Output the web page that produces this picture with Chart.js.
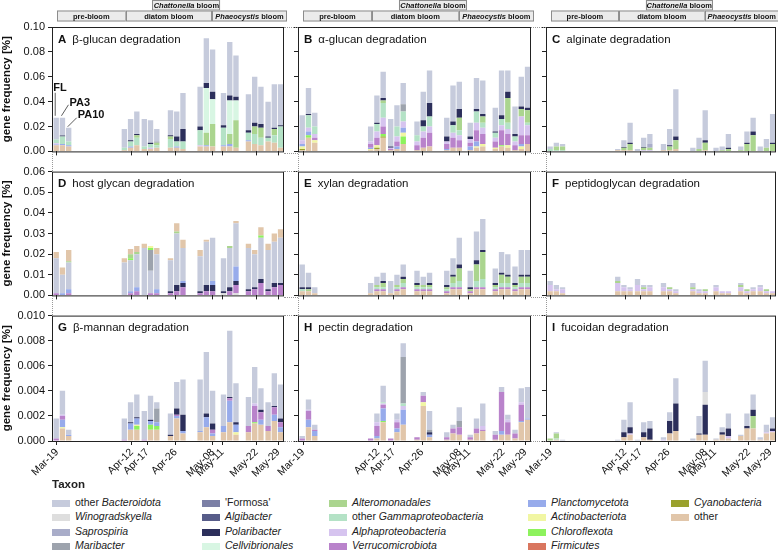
<!DOCTYPE html>
<html>
<head>
<meta charset="utf-8">
<script src="https://cdn.jsdelivr.net/npm/chart.js@4.4.1/dist/chart.umd.min.js"></script>
<style>
  body { margin: 0; background: #fff; width: 778px; height: 550px; position: relative; overflow: hidden;
         font-family: "Liberation Sans", Arial, sans-serif; color: #222; }
  canvas { position: absolute; }
  .dot { position: absolute; border-color: #999; border-style: dotted; border-width: 0; }
  .lg { position: absolute; font-size: 10.5px; line-height: 14px; white-space: nowrap; }
  .lg span.sw { display: inline-block; width: 18px; height: 7px; vertical-align: -0.5px; margin-right: 5px; }
</style>
</head>
<body>
<script>
// ---------------------------------------------------------------
// Sampling design: 8 dates, 3 size fractions each (FL, PA3, PA10)
// ---------------------------------------------------------------
const sampleDays = [1.75, 23.6, 30.0, 38.4, 47.9, 55.4, 63.4, 69.7];   // days after Mar-19 (group centre)
const fractions = ['FL', 'PA3', 'PA10'];
const tickDays = [0, 24, 29, 38, 50, 53, 64, 71];
const tickLabels = ['Mar-19', 'Apr-12', 'Apr-17', 'Apr-26', 'May-08', 'May-11', 'May-22', 'May-29'];

const phaseNames = ['pre-bloom', 'diatom bloom', 'Phaeocystis bloom'];
const phaseStart = [0, 22, 49.7];
const phaseEnd = [22, 49.7, 72.8];
const chattStart = 30.6, chattEnd = 52.4;

// Taxa (legend order)
const taxonKeys = ['bact', 'winog', 'sapro', 'mari', 'formosa', 'algi', 'polar', 'cellv', 'alter',
  'gamma', 'alpha', 'verruco', 'planct', 'actino', 'chloro', 'firmi', 'cyano', 'other'];
const taxonNames = ['other <i>Bacteroidota</i>', '<i>Winogradskyella</i>', '<i>Saprospiria</i>', '<i>Maribacter</i>',
  "'Formosa'", '<i>Algibacter</i>', '<i>Polaribacter</i>', '<i>Cellvibrionales</i>', '<i>Alteromonadales</i>',
  'other <i>Gammaproteobacteria</i>', '<i>Alphaproteobacteria</i>', '<i>Verrucomicrobiota</i>', '<i>Planctomycetota</i>',
  '<i>Actinobacteriota</i>', '<i>Chloroflexota</i>', '<i>Firmicutes</i>', '<i>Cyanobacteria</i>', 'other'];
const taxonColors = ['#c6cbdc', '#dedede', '#a9adc9', '#9da3ad', '#7c80a6', '#575c89', '#2c2f5b', '#d8f6e3', '#abd58f',
  '#b4e2c6', '#d6c4ef', '#b983cb', '#97abeb', '#f1f6a3', '#8df25d', '#d9765f', '#9aa12d', '#e1c6aa'];

// ---------------- A: beta-glucan ----------------
const A_other = [.005,.005,.004, .001,.003,.005, .002,.002,.003, .003,.003,.002, .004,.004,.004, .004,.004,.003, .008,.006,.005, .008,.007,.003];
const A_planct = [.0005,.001,.001, 0,.001,0, 0,0,0, 0,.001,0, 0,.001,0, .001,.002,0, .001,0,0, 0,0,0];
const A_alpha = [.001,0,0, 0,0,0, 0,.001,0, 0,0,0, .001,0,0, 0,0,0, 0,0,0, 0,0,0];
const A_gamma = [.003,.006,.003, .002,.004,.006, .002,.003,.002, .007,.004,.006, .012,0,0, .014,0,0, .006,.008,.006, .003,.006,.017];
const A_alter = [0,0,0, 0,0,.002, 0,0,.002, .002,0,0, 0,.010,.018, 0,.008,.022, 0,.006,.008, 0,.005,0];
const A_cellv = [0,0,0, 0,0,0, 0,0,0, 0,0,0, 0,.036,.020, 0,.027,.016, 0,0,0, 0,0,0];
const A_polar = [0,.0007,0, 0,.001,.001, 0,.001,0, .001,.004,.010, .003,.004,.006, .002,.004,.003, .002,.003,.003, .001,.001,.001];
const A_mari = [0,0,0, 0,0,0, 0,0,.001, 0,0,0, 0,0,0, 0,0,0, 0,0,0, 0,0,0];
const A_bact = [.0175,.0143,.011, .015,.017,.018, .022,.018,.010, .020,.020,.029, .032,.036,.034, .026,.043,.033, .029,.037,.030, .028,.035,.033];

// ---------------- B: alpha-glucan ----------------
const B_other = [.001,.011,.007, .001,.002,.011, .001,.002,.006, .001,.003,.004, .001,.003,.003, .001,.003,.004, .002,.004,.003, .001,.002,.006];
const B_cyano = [.001,0,0, 0,.001,.001, 0,0,0, 0,0,0, 0,0,0, 0,0,0, 0,0,0, 0,0,0];
const B_chloro = [0,.002,0, 0,0,.002, 0,0,.006, 0,0,0, 0,0,0, 0,0,0, 0,.001,0, 0,0,0];
const B_actino = [.002,0,.002, .001,.002,0, 0,0,.003, 0,0,0, 0,0,0, 0,.001,.002, .001,0,.002, 0,.002,0];
const B_planct = [.002,.003,0, .001,0,0, 0,.002,.004, 0,0,0, .001,0,0, .003,.004,0, 0,0,0, 0,.002,0];
const B_verruco = [0,0,.002, .003,.006,.006, .001,.004,0, .004,.008,.011, .004,.008,.006, .003,.009,.008, .005,.012,.009, .004,.007,.007];
const B_alpha = [.003,.003,.003, .002,.005,.007, .001,.004,.005, .003,.005,.005, .002,.004,.004, .003,.006,.005, .003,.004,.004, .003,.015,.008];
const B_gamma = [0,.010,.006, 0,.006,.012, 0,.008,.008, .005,.004,.008, 0,.006,.004, 0,.009,.004, .004,.005,.005, .004,0,.002];
const B_alter = [0,0,0, 0,0,.002, 0,0,0, 0,0,0, 0,0,.010, 0,0,.005, 0,0,.020, 0,.006,.010];
const B_polar = [0,.001,0, 0,.001,.002, .001,0,0, 0,.005,.011, .004,.003,.007, .002,.002,.002, .001,.003,.005, .002,.002,.002];
const B_mari = [0,0,0, 0,0,0, 0,0,.006, 0,0,0, 0,0,0, 0,0,0, 0,0,0, 0,0,0];
const B_bact = [.020,.021,.011, .012,.022,.021, .022,.017,.017, .011,.023,.026, .015,.029,.022, .011,.025,.027, .019,.036,.017, .022,.024,.033];

// ---------------- C: alginate ----------------
const C_other = [0,0,0, .001,.001,.001, 0,0,0, .001,.001,.002, 0,0,.001, 0,0,0, 0,0,0, 0,0,0];
const C_alpha = [0,0,0, 0,0,0, 0,.001,.001, 0,0,0, 0,0,0, 0,0,0, 0,0,0, 0,0,0];
const C_gamma = [.002,.001,.001, 0,0,0, 0,0,0, 0,0,0, 0,0,0, 0,0,0, 0,0,0, 0,0,0];
const C_alter = [0,.003,.003, 0,.002,.005, 0,.002,.002, 0,.003,.007, 0,.002,.006, 0,.001,.002, .001,.006,.013, 0,.003,.006];
const C_polar = [0,0,0, 0,.0005,.001, 0,.0005,0, 0,.001,.003, 0,0,.002, 0,0,.001, 0,.001,.003, 0,0,.001];
const C_sapro = [0,0,0, 0,0,0, 0,0,.003, 0,0,0, 0,0,0, 0,0,0, 0,0,0, 0,0,0];
const C_bact = [.002,.003,.002, .001,.0055,.016, .002,.0075,.008, .005,.013,.038, .003,.009,.024, .003,.003,.011, .003,.009,.011, .004,.007,.023];

// ---------------- D: host glycan ----------------
const D_winog = [0,0,0, 0,0,0, 0,0,0, 0,0,0, 0,0,0, .001,0,.001, 0,0,0, 0,0,0];
const D_verruco = [.001,0,.001, 0,.001,.002, 0,.001,.001, .001,.002,.004, .001,.002,.002, 0,.002,.004, .002,.003,.006, .002,.004,.005];
const D_polar = [0,0,0, 0,0,0, 0,0,0, .001,.003,.002, .001,.003,.003, .001,.002,.002, .001,.001,.002, .001,.002,.001];
const D_planct = [0,.001,.002, 0,.001,.002, 0,0,.002, 0,0,.001, 0,0,.002, 0,0,.007, 0,0,0, 0,0,0];
const D_bact = [.017,.009,.013, .016,.015,.016, .023,.011,.017, .015,.025,.016, .017,.021,.021, .016,.019,.021, .020,.016,.020, .019,.020,.022];
const D_mari = [0,0,0, 0,0,0, 0,.010,0, 0,0,0, 0,0,0, 0,0,0, 0,0,0, 0,0,0];
const D_chloro = [0,0,0, 0,.001,0, 0,.001,0, 0,0,0, 0,0,0, 0,0,0, 0,0,.001, 0,0,0];
const D_actino = [0,0,0, 0,0,0, 0,.001,0, 0,0,0, 0,0,0, 0,0,0, 0,0,0, 0,0,0];
const D_alter = [0,0,.0005, 0,.002,.001, 0,0,0, 0,.001,0, 0,0,0, 0,.001,0, 0,0,0, 0,0,0];
const D_other = [.003,.0035,.0055, .002,.0025,.003, .002,0,.003, .001,.004,.004, .003,.001,0, 0,0,.001, .002,.002,.004, .003,.004,.004];

// ---------------- E: xylan ----------------
const E_other = [.002,.002,.001, .001,.002,.002, .001,.002,.003, .002,.002,.002, .001,.003,.003, .001,.003,.003, .002,.003,.003, .002,.003,.003];
const E_verruco = [0,0,0, 0,.001,.001, 0,.001,.001, .001,.001,.001, .001,.001,.001, .001,.001,.001, .001,.001,.001, .001,.001,.001];
const E_gamma = [.001,0,0, 0,.001,.001, 0,.001,.002, .001,.001,.001, .001,.002,.003, 0,.003,.004, .001,.002,.002, .001,.002,.002];
const E_alter = [0,.001,0, 0,.001,.002, 0,.001,.002, .001,.001,.001, .001,.003,.006, .001,.008,.013, .001,.004,.003, .001,.003,.003];
const E_polar = [.001,.001,0, 0,0,.001, 0,0,.001, .001,0,.001, .001,.001,.002, .001,.002,.001, .001,.001,.001, .001,.001,.001];
const E_bact = [.011,.007,.003, .005,.004,.004, .006,.005,.006, .006,.004,.005, .007,.008,.013, .008,.014,.015, .007,.010,.010, .008,.012,.012];

// ---------------- F: peptidoglycan ----------------
const F_other = [.002,.002,.001, .002,.002,.002, .002,.002,.002, .002,.002,.001, .002,.001,.001, .002,.001,.001, .002,.001,.002, .002,.001,.001];
const F_alter = [0,0,0, .001,0,0, 0,.001,0, 0,.001,0, .001,0,.001, 0,0,0, .001,.001,0, 0,.001,0];
const F_alpha = [.003,.001,.002, .004,.002,.001, .003,.001,.002, .002,.001,.001, .001,.001,.001, .002,.001,.001, .002,.001,.001, .002,.001,.001];
const F_bact = [.002,.002,.001, .002,.001,.001, .003,.001,.001, .002,0,.001, .002,.001,0, .001,0,0, .001,0,.001, .001,0,0];

// ---------------- G: beta-mannan ----------------
const G_other = [0,.001,.0004, 0,.0009,.0009, 0,.0009,.0009, .0004,.0018,.0006, .0007,.0011,.0004, .0007,.0015,.0005, .0007,.0014,.0013, .0008,.0016,.0007];
const G_chloro = [0,0,0, 0,0,.0003, 0,.0004,.0003, 0,0,0, 0,0,0, 0,0,0, 0,.0001,0, 0,0,0];
const G_actino = [0,.0001,0, 0,0,.0001, 0,0,0, 0,0,0, 0,0,0, 0,0,.0002, 0,0,0, 0,0,0];
const G_planct = [0,.0006,.0001, 0,.0005,.0005, 0,.0003,.0003, 0,.0002,.0002, .0001,.0008,.0002, .0005,.0017,.0006, 0,0,.0004, 0,.0005,.0004];
const G_verruco = [.0002,.0003,0, .0001,0,0, .0001,0,0, 0,.0001,0, 0,0,.0003, 0,.0002,0, .0005,.0013,.0006, .0004,.0006,.0004];
const G_alpha = [0,.0001,0, 0,0,0, 0,0,0, 0,0,0, 0,0,0, 0,0,0, 0,.0002,0, 0,0,0];
const G_polar = [0,0,0, 0,.0001,.0001, 0,.0001,0, .0001,.0005,.0013, 0,.0003,.0005, 0,.0001,.0002, 0,0,.0002, 0,.0001,.0003];
const G_mari = [0,0,0, 0,0,0, 0,0,.0011, 0,0,0, 0,0,0, 0,0,0, 0,0,0, 0,0,0];
const G_bact = [.0016,.0019,.0004, .0017,.0016,.0018, .0023,.0019,.0005, .0017,.0021,.0028, .0041,.0049,.0026, .0025,.0053,.0031, .0023,.0029,.0017, .0019,.0026,.0027];

// ---------------- H: pectin ----------------
const H_other = [0,.0011,.0004, 0,.0002,.0015, 0,.0007,.0013, .0001,.0028,.0003, .0001,.0006,.0005, .0001,.0006,.0008, .0001,.0005,.0005, .0002,.0015,.0017];
const H_actino = [0,0,0, 0,0,0, 0,0,0, 0,.0003,0, 0,0,0, 0,0,0, 0,0,0, 0,0,0];
const H_chloro = [0,0,0, 0,0,.0001, 0,0,0, 0,0,0, 0,0,0, 0,0,0, 0,0,0, 0,0,0];
const H_planct = [0,.0006,.0004, 0,.0002,.0010, 0,.0003,.0012, 0,0,.0002, 0,0,0, 0,0,0, 0,.0003,0, 0,.0001,.0001];
const H_verruco = [.0002,.0007,.0001, .0002,.0008,.0003, .0002,.0005,0, .0002,.0005,0, .0002,.0004,.0006, .0002,.0004,.0001, .0004,.0031,.0010, .0004,.0013,0];
const H_alpha = [0,.0001,0, 0,.0003,.0001, 0,.0002,.0003, 0,0,0, 0,0,0, 0,0,.0003, 0,0,.0002, 0,.0002,0];
const H_gamma = [0,0,0, 0,0,.0001, 0,0,.0002, 0,0,0, 0,0,0, 0,0,0, 0,0,0, 0,0,0];
const H_polar = [0,0,0, 0,0,0, 0,0,0, 0,0,.0002, 0,0,0, 0,0,0, 0,0,0, 0,0,0];
const H_mari = [0,0,0, 0,0,0, 0,0,.0037, 0,0,.0002, 0,0,.0005, 0,0,0, 0,0,0, 0,0,0];
const H_bact = [.0002,.0008,.0004, 0,.0007,.0013, 0,.0005,.0011, 0,.0003,.0015, .0004,.0003,.0011, .0002,.0008,.0018, .0003,.0004,.0004, .0003,.0011,.0025];

// ---------------- I: fucoidan ----------------
const I_other = [0,.0001,0, 0,.0003,.0005, 0,.0003,.0001, 0,.0006,.0008, 0,.0005,.0005, .0001,.0005,.0002, .0004,.0010,.0010, .0001,.0006,.0007];
const I_alpha = [0,0,0, 0,0,.0001, 0,0,0, .0001,0,0, 0,0,0, 0,0,.0002, 0,0,0, 0,.0001,.0001];
const I_gamma = [0,.0001,0, 0,0,0, 0,0,0, 0,0,0, 0,0,0, 0,0,0, 0,0,0, 0,0,0];
const I_alter = [.0002,.0004,0, 0,0,0, 0,0,0, 0,0,0, 0,0,0, 0,0,0, 0,0,.0010, 0,0,0];
const I_polar = [0,0,0, 0,.0004,.0005, 0,.0004,.0009, 0,.0010,.0022, 0,.0001,.0024, 0,.0002,.0006, 0,.0002,.0005, 0,0,.0002];
const I_winog = [0,0,0, 0,0,0, 0,0,0, 0,0,0, 0,0,.0010, 0,0,0, 0,0,0, 0,0,0];
const I_bact = [0,.0001,.0001, .0001,.0010,.0020, .0001,.0008,.0006, .0002,.0007,.0020, .0002,.0014,.0025, .0001,.0004,.0012, .0001,.0010,.0012, .0002,.0006,.0009];

// y axis per row
const rowMax = [0.10, 0.06, 0.010];
const rowStep = [0.02, 0.01, 0.002];
const rowDecimals = [2, 2, 3];

// stacking order, bottom to top
const stackOrder = ['other', 'cyano', 'firmi', 'chloro', 'actino', 'planct', 'verruco', 'alpha', 'gamma', 'alter',
  'cellv', 'polar', 'algi', 'formosa', 'mari', 'sapro', 'winog', 'bact'];
const stackOrderHost = ['winog', 'verruco', 'alpha', 'polar', 'planct', 'bact', 'mari', 'sapro', 'formosa', 'algi',
  'cellv', 'gamma', 'chloro', 'actino', 'alter', 'firmi', 'cyano', 'other'];

const panels = [
  { letter: 'A', title: 'β-glucan degradation', row: 0, col: 0,
    parts: { other: A_other, planct: A_planct, alpha: A_alpha, gamma: A_gamma, alter: A_alter, cellv: A_cellv, polar: A_polar, mari: A_mari, bact: A_bact } },
  { letter: 'B', title: 'α-glucan degradation', row: 0, col: 1,
    parts: { other: B_other, cyano: B_cyano, chloro: B_chloro, actino: B_actino, planct: B_planct, verruco: B_verruco, alpha: B_alpha, gamma: B_gamma, alter: B_alter, polar: B_polar, mari: B_mari, bact: B_bact } },
  { letter: 'C', title: 'alginate degradation', row: 0, col: 2,
    parts: { other: C_other, alpha: C_alpha, gamma: C_gamma, alter: C_alter, polar: C_polar, sapro: C_sapro, bact: C_bact } },
  { letter: 'D', title: 'host glycan degradation', row: 1, col: 0, order: stackOrderHost,
    parts: { winog: D_winog, verruco: D_verruco, polar: D_polar, planct: D_planct, bact: D_bact, mari: D_mari, chloro: D_chloro, actino: D_actino, alter: D_alter, other: D_other } },
  { letter: 'E', title: 'xylan degradation', row: 1, col: 1,
    parts: { other: E_other, verruco: E_verruco, gamma: E_gamma, alter: E_alter, polar: E_polar, bact: E_bact } },
  { letter: 'F', title: 'peptidoglycan degradation', row: 1, col: 2,
    parts: { other: F_other, alter: F_alter, alpha: F_alpha, bact: F_bact } },
  { letter: 'G', title: 'β-mannan degradation', row: 2, col: 0,
    parts: { other: G_other, chloro: G_chloro, actino: G_actino, planct: G_planct, verruco: G_verruco, alpha: G_alpha, polar: G_polar, mari: G_mari, bact: G_bact } },
  { letter: 'H', title: 'pectin degradation', row: 2, col: 1,
    parts: { other: H_other, actino: H_actino, chloro: H_chloro, planct: H_planct, verruco: H_verruco, alpha: H_alpha, gamma: H_gamma, polar: H_polar, mari: H_mari, bact: H_bact } },
  { letter: 'I', title: 'fucoidan degradation', row: 2, col: 2,
    parts: { other: I_other, alpha: I_alpha, gamma: I_gamma, alter: I_alter, polar: I_polar, winog: I_winog, bact: I_bact } }
];

// ---------------- layout (page pixels) ----------------
const colLeft = [52, 298, 546];
const colWidth = [232, 233, 230];
const rowTop = [27, 171, 315];
const plotH = 126;
const axisW = 52;
const padR = 6;
const fractionShift = [-2, 0, 2];   // FL / PA3 / PA10 bar offset inside a group, in days
const X_MIN = -1.6, X_MAX = 72.8;
const FONT = '"Liberation Sans", Arial, sans-serif';

Chart.defaults.font.family = FONT;
Chart.defaults.color = '#222';

function sampleX(i) {
  return sampleDays[Math.floor(i / 3)] + fractionShift[i % 3];
}

function buildDatasets(p) {
  const order = p.order || stackOrder;
  return order.filter(k => p.parts[k]).map(k => {
    const t = taxonKeys.indexOf(k);
    return {
      label: taxonNames[t].replace(/<[^>]+>/g, ''),
      data: p.parts[k].map((v, i) => ({ x: sampleX(i), y: v })),
      backgroundColor: taxonColors[t],
      borderWidth: 0,
      barPercentage: 0.86,
      categoryPercentage: 1
    };
  });
}

// frame around every plot area
const framePlugin = {
  id: 'frame',
  afterDatasetsDraw(chart) {
    const { ctx, chartArea: a } = chart;
    ctx.save();
    ctx.strokeStyle = '#222';
    ctx.lineWidth = 1;
    ctx.strokeRect(a.left + 0.5, a.top + 0.5, a.right - a.left - 1, a.bottom - a.top);
    ctx.restore();
  }
};

// panel letter + title
const titlePlugin = {
  id: 'panelTitle',
  afterDraw(chart) {
    const p = chart.config.options.plugins.panelTitle;
    const { ctx, chartArea: a } = chart;
    ctx.save();
    ctx.fillStyle = '#111';
    ctx.textBaseline = 'alphabetic';
    ctx.font = 'bold 11.5px ' + FONT;
    const x0 = a.left + 6;
    ctx.fillText(p.letter, x0, a.top + 15.5);
    const w = ctx.measureText(p.letter).width;
    ctx.font = '11.5px ' + FONT;
    ctx.fillText(p.title, x0 + w + 6, a.top + 15.5);
    ctx.restore();
  }
};

// bloom phase header above the top row
function drawBox(ctx, x0, x1, y0, y1, pieces) {
  ctx.fillStyle = '#ebebeb';
  ctx.fillRect(x0, y0, x1 - x0, y1 - y0);
  ctx.strokeStyle = '#8c8c8c';
  ctx.lineWidth = 1;
  ctx.strokeRect(Math.round(x0) + 0.5, y0 + 0.5, Math.round(x1 - x0) - 1, y1 - y0 - 1);
  let total = 0;
  pieces.forEach(pc => { ctx.font = pc[1] + ' 7.5px ' + FONT; total += ctx.measureText(pc[0]).width; });
  let x = (x0 + x1) / 2 - total / 2;
  ctx.fillStyle = '#111';
  ctx.textBaseline = 'middle';
  pieces.forEach(pc => {
    ctx.font = pc[1] + ' 7.5px ' + FONT;
    ctx.fillText(pc[0], x, (y0 + y1) / 2 + 0.5);
    x += ctx.measureText(pc[0]).width;
  });
}

function phasePieces(name) {
  const m = name.match(/^(Phaeocystis|Chattonella)( bloom)$/);
  return m ? [[m[1], 'italic bold'], [m[2], 'bold']] : [[name, 'bold']];
}

const headerPlugin = {
  id: 'header',
  afterDraw(chart) {
    const { ctx, scales: { x } } = chart;
    ctx.save();
    drawBox(ctx, x.getPixelForValue(chattStart), x.getPixelForValue(chattEnd), 0, 10.5, phasePieces('Chattonella bloom'));
    phaseNames.forEach((n, i) => {
      drawBox(ctx, x.getPixelForValue(phaseStart[i]), x.getPixelForValue(Math.min(phaseEnd[i], X_MAX)) + (i === 2 ? 3 : 0),
        10.5, 21.5, phasePieces(n));
    });
    ctx.restore();
  }
};

// FL / PA3 / PA10 callouts in panel A
const calloutPlugin = {
  id: 'callout',
  afterDraw(chart) {
    const { ctx, scales: { x, y } } = chart;
    const p = panels[0];
    const tops = [0, 1, 2].map(i => Object.values(p.parts).reduce((s, arr) => s + arr[i], 0));
    const bx = [0, 1, 2].map(i => x.getPixelForValue(sampleX(i)));
    const by = tops.map(t => y.getPixelForValue(t));
    ctx.save();
    ctx.fillStyle = '#111';
    ctx.strokeStyle = '#333';
    ctx.lineWidth = 0.8;
    ctx.font = 'bold 11px ' + FONT;
    ctx.textBaseline = 'alphabetic';
    ctx.fillText('FL', bx[0] - 3, by[0] - 27);
    ctx.fillText('PA3', bx[1] + 7, by[1] - 12);
    ctx.fillText('PA10', bx[2] + 9, by[2] - 10);
    ctx.beginPath();
    ctx.moveTo(bx[0] - 1, by[0] - 25); ctx.lineTo(bx[0] - 1, by[0] - 2);
    ctx.moveTo(bx[1] + 6, by[1] - 13); ctx.lineTo(bx[1] - 1, by[1] - 2);
    ctx.moveTo(bx[2] + 8, by[2] - 10); ctx.lineTo(bx[2] - 1, by[2] - 1);
    ctx.stroke();
    ctx.restore();
  }
};

function makePanel(p) {
  const r = p.row, c = p.col;
  const padTop = r === 0 ? 27 : 9;
  const xH = r === 2 ? 44 : 8;
  const cv = document.createElement('canvas');
  const W = axisW + colWidth[c] + padR;
  const H = padTop + plotH + xH;
  cv.width = W; cv.height = H;
  cv.style.left = (colLeft[c] - axisW) + 'px';
  cv.style.top = (rowTop[r] - padTop) + 'px';
  cv.style.width = W + 'px'; cv.style.height = H + 'px';
  document.body.appendChild(cv);

  const plugins = [framePlugin, titlePlugin];
  if (r === 0) plugins.push(headerPlugin);
  if (p.letter === 'A') plugins.push(calloutPlugin);

  new Chart(cv, {
    type: 'bar',
    data: { datasets: buildDatasets(p) },
    plugins: plugins,
    options: {
      responsive: false,
      animation: false,
      devicePixelRatio: 1,
      layout: { padding: { top: padTop, right: padR, left: 0, bottom: 0 } },
      plugins: {
        legend: { display: false },
        tooltip: { enabled: false },
        panelTitle: { letter: p.letter, title: p.title }
      },
      scales: {
        x: {
          type: 'linear',
          stacked: true,
          offset: false,
          min: X_MIN, max: X_MAX,
          afterBuildTicks: s => { s.ticks = tickDays.map(v => ({ value: v })); },
          afterFit: s => { s.height = xH; },
          border: { display: false },
          grid: { offset: false, drawOnChartArea: false, drawTicks: true, tickLength: 4, color: '#222' },
          ticks: {
            autoSkip: false,
            maxRotation: r === 2 ? 45 : 0,
            minRotation: r === 2 ? 45 : 0,
            padding: 1,
            font: { size: 10.5 },
            color: '#111',
            callback: v => r === 2 ? tickLabels[tickDays.indexOf(v)] : ''
          }
        },
        y: {
          stacked: true,
          min: 0, max: rowMax[r],
          afterFit: s => { s.width = axisW; },
          border: { display: false },
          grid: { drawOnChartArea: false, drawTicks: true, tickLength: 4, color: '#222' },
          ticks: {
            stepSize: rowStep[r],
            padding: 3,
            font: { size: 11 },
            color: '#111',
            callback: v => c === 0 ? Number(v).toFixed(rowDecimals[r]) : ''
          },
          title: {
            display: c === 0,
            text: 'gene frequency [%]',
            font: { size: 11.5, weight: 'bold' },
            color: '#111',
            padding: { top: 0, bottom: 0 }
          }
        }
      }
    }
  });
}

panels.forEach(makePanel);

// dotted axis-break connectors between panels
function dot(left, top, w, h, vertical) {
  const d = document.createElement('div');
  d.className = 'dot';
  d.style.left = left + 'px'; d.style.top = top + 'px';
  if (vertical) { d.style.height = h + 'px'; d.style.borderLeftWidth = '1px'; }
  else { d.style.width = w + 'px'; d.style.borderTopWidth = '1px'; }
  document.body.appendChild(d);
}
[0, 1, 2].forEach(c => {
  dot(colLeft[c], rowTop[0] + plotH + 1, 0, rowTop[1] - rowTop[0] - plotH - 1, true);
  dot(colLeft[c], rowTop[1] + plotH + 1, 0, rowTop[2] - rowTop[1] - plotH - 1, true);
});
[0, 1].forEach(c => {
  const l = colLeft[c] + colWidth[c];
  const w = colLeft[c + 1] - l;
  [0, 1, 2].forEach(r => {
    dot(l, rowTop[r], w, 0, false);
    dot(l, rowTop[r] + plotH, w, 0, false);
  });
});

// legend (HTML)
const legendColX = [52, 202, 329, 528, 671];
const legendRowY = [502, 516, 531, 545];
const head = document.createElement('div');
head.className = 'lg';
head.style.left = '52px'; head.style.top = '477px';
head.style.fontWeight = 'bold'; head.style.fontSize = '11.5px';
head.textContent = 'Taxon';
document.body.appendChild(head);
taxonKeys.forEach((k, i) => {
  const d = document.createElement('div');
  d.className = 'lg';
  d.style.left = legendColX[Math.floor(i / 4)] + 'px';
  d.style.top = (legendRowY[i % 4] - 7) + 'px';
  d.innerHTML = '<span class="sw" style="background:' + taxonColors[i] + '"></span>' + taxonNames[i];
  document.body.appendChild(d);
});
</script>
</body>
</html>
